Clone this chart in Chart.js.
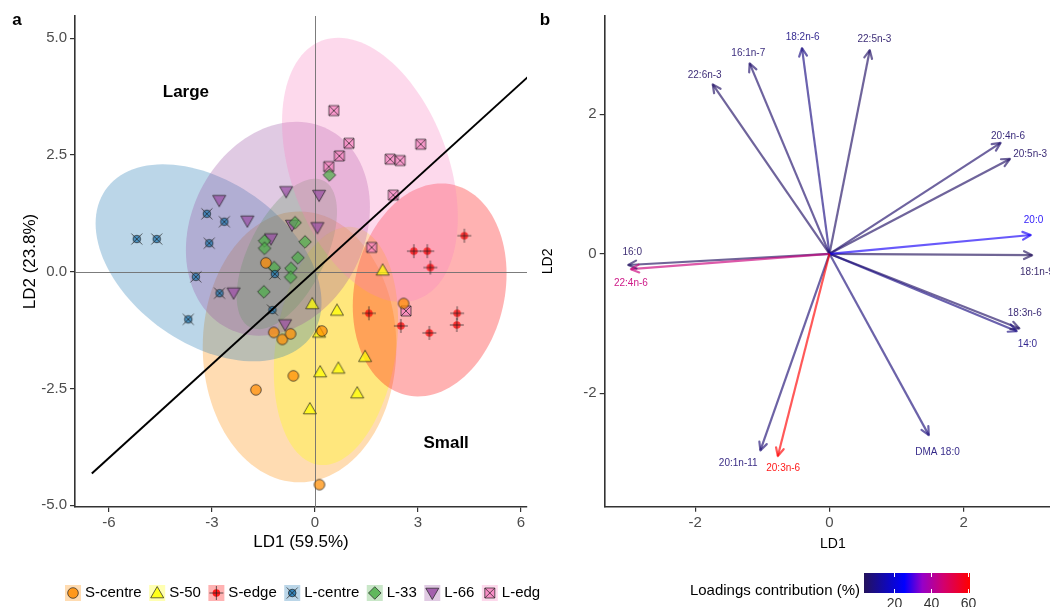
<!DOCTYPE html>
<html>
<head>
<meta charset="utf-8">
<script src="https://cdn.jsdelivr.net/npm/chart.js@4.4.1/dist/chart.umd.min.js"></script>
<style>
    html, body { margin: 0; padding: 0; background: #fff; width: 1050px; height: 607px; overflow: hidden; }
    #wrapA { position: absolute; left: 0; top: 0; width: 540px; height: 607px; }
    #wrapB { position: absolute; left: 540px; top: 0; width: 535px; height: 607px; }
</style>
</head>
<body>
<div id="wrapA"><canvas id="chartA" width="540" height="607"></canvas></div>
<div id="wrapB"><canvas id="chartB" width="535" height="607"></canvas></div>
<script>
// --- panel a: LDA scores per group ---
const groups = ['S-centre', 'S-50', 'S-edge', 'L-centre', 'L-33', 'L-66', 'L-edge'];

const sCentreLD1 = [-1.43, -1.20, -0.95, -0.71, 0.20, -0.63, -1.72, 0.13, 2.58];
const sCentreLD2 = [0.19, -1.30, -1.45, -1.33, -1.27, -2.23, -2.53, -4.56, -0.68];
const s50LD1 = [1.97, -0.08, 0.64, 0.12, 1.46, 0.68, 0.15, 1.23, -0.15];
const s50LD2 = [0.03, -0.69, -0.83, -1.30, -1.82, -2.07, -2.15, -2.60, -2.94];
const sEdgeLD1 = [4.35, 2.88, 3.27, 3.36, 1.57, 2.50, 3.33, 4.14, 4.13];
const sEdgeLD2 = [0.77, 0.44, 0.44, 0.09, -0.89, -1.16, -1.31, -0.89, -1.14];
const lCentreLD1 = [-5.19, -4.61, -3.15, -2.64, -3.08, -3.47, -2.78, -3.69, -1.17, -1.24];
const lCentreLD2 = [0.70, 0.70, 1.24, 1.07, 0.61, -0.11, -0.46, -1.02, -0.05, -0.82];
const l33LD1 = [0.42, -0.58, -1.47, -1.47, -0.29, -0.50, -1.19, -0.70, -0.71, -1.49];
const l33LD2 = [2.07, 1.05, 0.66, 0.50, 0.64, 0.30, 0.09, 0.07, -0.12, -0.43];
const l66LD1 = [-2.79, -0.84, 0.12, -1.97, -0.67, 0.07, -1.28, -2.37, -0.87];
const l66LD2 = [1.53, 1.72, 1.64, 1.09, 1.00, 0.95, 0.71, -0.45, -1.13];
const lEdgeLD1 = [0.55, 0.99, 0.71, 0.40, 2.19, 2.48, 3.08, 2.28, 1.65, 2.65];
const lEdgeLD2 = [3.45, 2.75, 2.48, 2.25, 2.41, 2.38, 2.73, 1.64, 0.52, -0.84];

const groupLD1 = [sCentreLD1, s50LD1, sEdgeLD1, lCentreLD1, l33LD1, l66LD1, lEdgeLD1];
const groupLD2 = [sCentreLD2, s50LD2, sEdgeLD2, lCentreLD2, l33LD2, l66LD2, lEdgeLD2];

// 95% ellipses: centre, half extent along each axis, correlation
const ellipseLD1 = [-0.45, 0.61, 3.34, -3.10, -0.82, -1.08, 1.60];
const ellipseLD2 = [-1.61, -1.59, -0.39, 0.19, 0.38, 0.92, 2.18];
const ellipseHalfLD1 = [2.82, 1.81, 2.24, 3.29, 1.46, 2.68, 2.56];
const ellipseHalfLD2 = [2.90, 2.55, 2.28, 2.11, 1.61, 2.29, 2.83];
const ellipseCorr = [0.0, 0.21, 0.15, -0.40, 0.56, 0.20, -0.36];

// size boundary
const boundaryLD1 = [-6.5, 6.23];
const boundaryLD2 = [-4.32, 4.19];

const sizeLabels = ['Large', 'Small'];
const sizeLabelLD1 = [-3.76, 3.82];
const sizeLabelLD2 = [3.85, -3.67];

const ld1Ticks = [-6, -3, 0, 3, 6];
const ld2Ticks = [-5, -2.5, 0, 2.5, 5];

// --- panel b: loadings ---
const fattyAcids = ['22:6n-3', '16:1n-7', '18:2n-6', '22:5n-3', '20:4n-6', '20:5n-3', '20:0', '18:1n-9',
    '16:0', '22:4n-6', '18:3n-6', '14:0', 'DMA 18:0', '20:1n-11', '20:3n-6'];
const loadLD1 = [-1.74, -1.19, -0.41, 0.60, 2.55, 2.69, 3.00, 3.02, -3.00, -2.96, 2.83, 2.79, 1.48, -1.03, -0.77];
const loadLD2 = [2.43, 2.73, 2.95, 2.92, 1.59, 1.36, 0.27, -0.02, -0.16, -0.22, -1.07, -1.11, -2.60, -2.82, -2.90];
const contribution = [5, 6, 9, 5, 6, 5, 27, 3.8, 4.5, 45, 5, 9, 8, 7, 61];
const labelLD1 = [-1.86, -1.21, -0.40, 0.67, 2.66, 2.99, 3.04, 3.09, -2.94, -2.96, 2.91, 2.95, 1.61, -1.36, -0.69];
const labelLD2 = [2.56, 2.87, 3.11, 3.07, 1.68, 1.43, 0.48, -0.27, 0.02, -0.42, -0.85, -1.30, -2.84, -3.01, -3.07];

const ld1TicksB = [-2, 0, 2];
const ld2TicksB = [-2, 0, 2];
const contribTicks = [20, 40, 60];

// --- styles ---
const FONT = 'Liberation Sans, Arial, Helvetica, sans-serif';
Chart.defaults.font.family = FONT;
Chart.defaults.color = '#4d4d4d';

const groupColours = ['#ff8c00', '#ffff00', '#ff0000', '#1f78b4', '#4daf4a', '#984ea3', '#f781bf'];
const groupShapes = ['circle', 'triangle', 'circlePlus', 'circleCross', 'diamond', 'triangleDown', 'squareCross'];
const gradStops = [[0, [36, 18, 92]], [0.38, [0, 0, 255]], [0.55, [150, 0, 200]], [0.75, [210, 0, 110]], [1, [255, 0, 0]]];

const rgba = (hex, a) => {
    const n = parseInt(hex.slice(1), 16);
    return `rgba(${(n >> 16) & 255},${(n >> 8) & 255},${n & 255},${a})`;
};

const cMin = Math.min(...contribution);
const cMax = Math.max(...contribution);
const contribColour = (v, a) => {
    const t = Math.max(0, Math.min(1, (v - cMin) / (cMax - cMin)));
    for (let i = 1; i < gradStops.length; i++) {
        const [t0, c0] = gradStops[i - 1];
        const [t1, c1] = gradStops[i];
        if (t <= t1) {
            const f = (t - t0) / (t1 - t0);
            const c = c0.map((x, k) => Math.round(x + (c1[k] - x) * f));
            return `rgba(${c[0]},${c[1]},${c[2]},${a})`;
        }
    }
    return `rgba(255,0,0,${a})`;
};

// marker drawing, shared by points and legend keys
function drawShape(ctx, shape, x, y, colour) {
    ctx.save();
    ctx.fillStyle = colour;
    ctx.strokeStyle = 'rgba(30,30,30,0.7)';
    ctx.lineWidth = 1;
    ctx.beginPath();
    if (shape === 'circle') {
        ctx.arc(x, y, 5.3, 0, Math.PI * 2);
    } else if (shape === 'triangle') {
        ctx.moveTo(x, y - 6.5); ctx.lineTo(x + 6.5, y + 4.8); ctx.lineTo(x - 6.5, y + 4.8); ctx.closePath();
    } else if (shape === 'triangleDown') {
        ctx.moveTo(x - 6.5, y - 4.8); ctx.lineTo(x + 6.5, y - 4.8); ctx.lineTo(x, y + 6.5); ctx.closePath();
    } else if (shape === 'diamond') {
        ctx.moveTo(x, y - 6.3); ctx.lineTo(x + 6.3, y); ctx.lineTo(x, y + 6.3); ctx.lineTo(x - 6.3, y); ctx.closePath();
    } else if (shape === 'squareCross') {
        ctx.rect(x - 5, y - 5, 10, 10);
    } else {
        ctx.arc(x, y, 3.8, 0, Math.PI * 2);
    }
    ctx.fill();
    if (shape !== 'circlePlus') ctx.stroke();
    ctx.beginPath();
    if (shape === 'circlePlus') {
        ctx.moveTo(x - 7, y); ctx.lineTo(x + 7, y);
        ctx.moveTo(x, y - 7); ctx.lineTo(x, y + 7);
    } else if (shape === 'circleCross') {
        ctx.moveTo(x - 5.5, y - 5.5); ctx.lineTo(x + 5.5, y + 5.5);
        ctx.moveTo(x + 5.5, y - 5.5); ctx.lineTo(x - 5.5, y + 5.5);
    } else if (shape === 'squareCross') {
        ctx.moveTo(x - 5, y - 5); ctx.lineTo(x + 5, y + 5);
        ctx.moveTo(x + 5, y - 5); ctx.lineTo(x - 5, y + 5);
    }
    ctx.stroke();
    ctx.restore();
}

function markerImage(shape, colour) {
    const c = document.createElement('canvas');
    c.width = 20; c.height = 20;
    drawShape(c.getContext('2d'), shape, 10, 10, colour);
    return c;
}

// --- plugins for panel a ---
const ellipsePlugin = {
    id: 'ellipses',
    beforeDatasetsDraw(chart) {
        const { ctx, chartArea: ca, scales: { x, y } } = chart;
        ctx.save();
        ctx.beginPath();
        ctx.rect(ca.left, ca.top, ca.right - ca.left, ca.bottom - ca.top);
        ctx.clip();
        groups.forEach((g, i) => {
            const sx = ellipseHalfLD1[i], sy = ellipseHalfLD2[i], r = ellipseCorr[i];
            ctx.beginPath();
            for (let k = 0; k <= 120; k++) {
                const t = k / 120 * Math.PI * 2;
                const vx = ellipseLD1[i] + sx * Math.cos(t);
                const vy = ellipseLD2[i] + sy * (r * Math.cos(t) + Math.sqrt(1 - r * r) * Math.sin(t));
                const px = x.getPixelForValue(vx), py = y.getPixelForValue(vy);
                if (k === 0) ctx.moveTo(px, py); else ctx.lineTo(px, py);
            }
            ctx.closePath();
            ctx.fillStyle = rgba(groupColours[i], 0.3);
            ctx.fill();
        });
        // zero reference lines
        ctx.strokeStyle = 'rgba(110,110,110,0.9)';
        ctx.lineWidth = 1;
        ctx.beginPath();
        const x0 = Math.round(x.getPixelForValue(0)) + 0.5;
        const y0 = Math.round(y.getPixelForValue(0)) + 0.5;
        ctx.moveTo(x0, ca.top); ctx.lineTo(x0, ca.bottom);
        ctx.moveTo(ca.left, y0); ctx.lineTo(ca.right, y0);
        ctx.stroke();
        ctx.restore();
    },
    afterDatasetsDraw(chart) {
        const { ctx, scales: { x, y } } = chart;
        ctx.save();
        ctx.font = `bold 17px ${FONT}`;
        ctx.fillStyle = '#000';
        ctx.textAlign = 'center';
        ctx.textBaseline = 'middle';
        sizeLabels.forEach((s, i) => {
            ctx.fillText(s, x.getPixelForValue(sizeLabelLD1[i]), y.getPixelForValue(sizeLabelLD2[i]));
        });
        ctx.fillText('a', 17, 20);
        ctx.restore();
    },
    afterDraw(chart) {
        const ctx = chart.ctx;
        ctx.save();
        ctx.font = `15px ${FONT}`;
        ctx.textBaseline = 'middle';
        let px = 65;
        const py = 593;
        groups.forEach((g, i) => {
            ctx.fillStyle = rgba(groupColours[i], 0.3);
            ctx.fillRect(px, py - 8, 16, 16);
            drawShape(ctx, groupShapes[i], px + 8, py, rgba(groupColours[i], 0.85));
            ctx.fillStyle = '#000';
            ctx.fillText(g, px + 20, py);
            px += 20 + ctx.measureText(g).width + 7.5;
        });
        ctx.restore();
    }
};

const axisStyle = {
    grid: { drawOnChartArea: false, drawTicks: true, tickLength: 5, color: '#333', lineWidth: 1.2 },
    border: { display: true, color: '#333', width: 1.6 }
};

const pointSets = groups.map((g, i) => ({
    label: g,
    data: groupLD1[i].map((v, k) => ({ x: v, y: groupLD2[i][k] })),
    pointStyle: markerImage(groupShapes[i], rgba(groupColours[i], 0.72)),
    pointRadius: 6,
    order: 1
}));

new Chart(document.getElementById('chartA'), {
    type: 'scatter',
    data: {
        datasets: [
            ...pointSets,
            {
                label: 'boundary',
                data: boundaryLD1.map((v, k) => ({ x: v, y: boundaryLD2[k] })),
                showLine: true,
                borderColor: '#000',
                borderWidth: 2,
                pointRadius: 0,
                order: 0
            }
        ]
    },
    options: {
        responsive: false,
        animation: false,
        devicePixelRatio: 1,
        events: [],
        layout: { padding: { top: 16, right: 13, bottom: 54, left: 0 } },
        plugins: { legend: { display: false }, tooltip: { enabled: false } },
        scales: {
            x: {
                type: 'linear', min: -6.99, max: 6.175,
                afterBuildTicks: s => { s.ticks = ld1Ticks.map(v => ({ value: v })); },
                afterFit: s => { s.height = 46; },
                ...axisStyle,
                ticks: { color: '#4d4d4d', font: { size: 15 }, padding: 2, callback: v => String(v) },
                title: { display: true, text: 'LD1 (59.5%)', color: '#000', font: { size: 17 }, padding: 0 }
            },
            y: {
                type: 'linear', min: -5.038, max: 5.475,
                afterBuildTicks: s => { s.ticks = ld2Ticks.map(v => ({ value: v })); },
                afterFit: s => { s.width = 75; },
                ...axisStyle,
                ticks: { color: '#4d4d4d', font: { size: 15 }, padding: 3, callback: v => v.toFixed(1) },
                title: { display: true, text: 'LD2 (23.8%)', color: '#000', font: { size: 17 }, padding: { top: 20, bottom: 0 } }
            }
        }
    },
    plugins: [ellipsePlugin]
});

// --- plugins for panel b ---
const loadingPlugin = {
    id: 'loadings',
    afterDatasetsDraw(chart) {
        const { ctx, scales: { x, y } } = chart;
        ctx.save();
        chart.data.datasets.forEach((ds, i) => {
            const pts = chart.getDatasetMeta(i).data;
            const a = pts[0], b = pts[1];
            const ang = Math.atan2(b.y - a.y, b.x - a.x);
            ctx.strokeStyle = ds.borderColor;
            ctx.lineWidth = ds.borderWidth;
            ctx.lineCap = 'round';
            ctx.lineJoin = 'round';
            ctx.beginPath();
            ctx.moveTo(b.x - 9 * Math.cos(ang - 0.45), b.y - 9 * Math.sin(ang - 0.45));
            ctx.lineTo(b.x, b.y);
            ctx.lineTo(b.x - 9 * Math.cos(ang + 0.45), b.y - 9 * Math.sin(ang + 0.45));
            ctx.stroke();
        });
        ctx.font = `10px ${FONT}`;
        ctx.textAlign = 'center';
        ctx.textBaseline = 'middle';
        fattyAcids.forEach((f, i) => {
            ctx.fillStyle = contribColour(contribution[i], 0.9);
            ctx.fillText(f, x.getPixelForValue(labelLD1[i]), y.getPixelForValue(labelLD2[i]));
        });
        ctx.restore();
    },
    afterDraw(chart) {
        const ctx = chart.ctx;
        ctx.save();
        ctx.font = `bold 17px ${FONT}`;
        ctx.fillStyle = '#000';
        ctx.textAlign = 'center';
        ctx.textBaseline = 'middle';
        ctx.fillText('b', 5, 20);

        // colour bar
        const bx0 = 324, bx1 = 430, by0 = 573, by1 = 593;
        ctx.font = `15px ${FONT}`;
        ctx.textAlign = 'right';
        ctx.fillText('Loadings contribution (%)', bx0 - 4, 591);
        const grad = ctx.createLinearGradient(bx0, 0, bx1, 0);
        gradStops.forEach(([t, c]) => grad.addColorStop(t, `rgb(${c[0]},${c[1]},${c[2]})`));
        ctx.fillStyle = grad;
        ctx.fillRect(bx0, by0, bx1 - bx0, by1 - by0);
        ctx.strokeStyle = '#fff';
        ctx.lineWidth = 1;
        ctx.textAlign = 'center';
        ctx.textBaseline = 'top';
        ctx.font = `14px ${FONT}`;
        contribTicks.forEach(v => {
            const px = Math.round(bx0 + (v - cMin) / (cMax - cMin) * (bx1 - bx0)) + 0.5;
            ctx.beginPath();
            ctx.moveTo(px, by0); ctx.lineTo(px, by0 + 4);
            ctx.moveTo(px, by1 - 4); ctx.lineTo(px, by1);
            ctx.stroke();
            ctx.fillStyle = '#333';
            ctx.fillText(String(v), px, 597);
        });
        ctx.restore();
    }
};

const arrowSets = fattyAcids.map((f, i) => ({
    label: f,
    data: [{ x: 0, y: 0 }, { x: loadLD1[i], y: loadLD2[i] }],
    showLine: true,
    borderColor: contribColour(contribution[i], 0.65),
    borderWidth: 2.2,
    pointRadius: 0,
    order: -contribution[i]
}));

new Chart(document.getElementById('chartB'), {
    type: 'scatter',
    data: { datasets: arrowSets },
    options: {
        responsive: false,
        animation: false,
        devicePixelRatio: 1,
        events: [],
        layout: { padding: { top: 16, right: 14, bottom: 54.3, left: 0 } },
        plugins: { legend: { display: false }, tooltip: { enabled: false } },
        scales: {
            x: {
                type: 'linear', min: -3.35, max: 3.45,
                afterBuildTicks: s => { s.ticks = ld1TicksB.map(v => ({ value: v })); },
                afterFit: s => { s.height = 46; },
                ...axisStyle,
                ticks: { color: '#4d4d4d', font: { size: 15 }, padding: 2, callback: v => String(v) },
                title: { display: true, text: 'LD1', color: '#000', font: { size: 14 }, padding: 0 }
            },
            y: {
                type: 'linear', min: -3.626, max: 3.41,
                afterBuildTicks: s => { s.ticks = ld2TicksB.map(v => ({ value: v })); },
                afterFit: s => { s.width = 64.7; },
                ...axisStyle,
                ticks: { color: '#4d4d4d', font: { size: 15 }, padding: 3, callback: v => String(v) },
                title: { display: true, text: 'LD2', color: '#000', font: { size: 14 }, padding: 0 }
            }
        }
    },
    plugins: [loadingPlugin]
});
</script>
</body>
</html>
